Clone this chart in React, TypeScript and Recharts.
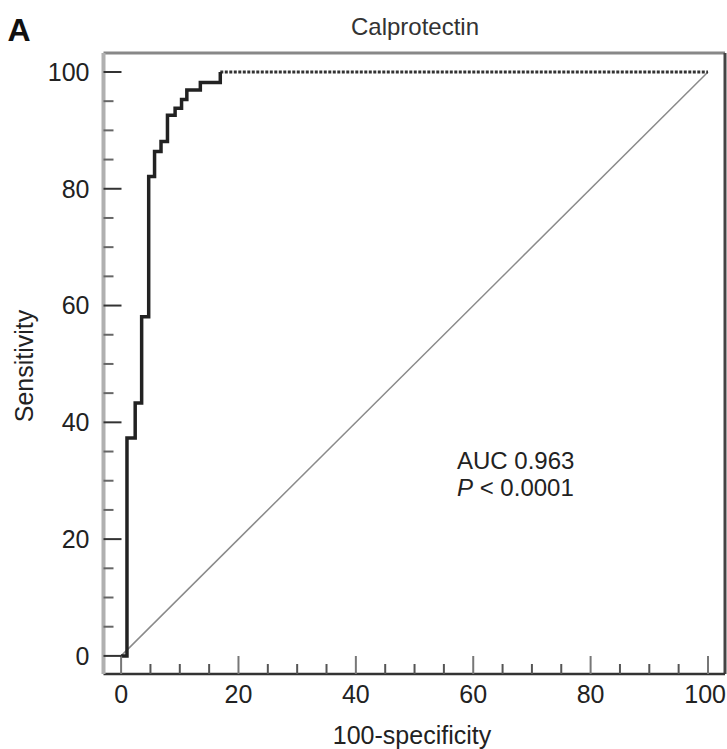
import { LineChart, Line, XAxis, YAxis, ReferenceLine } from 'recharts';

// ROC corner points (100-specificity, sensitivity)
const rocFpr = [0, 1.0, 1.0, 2.4, 2.4, 3.5, 3.5, 4.7, 4.7, 5.7, 5.7, 6.8, 6.8, 7.9, 7.9, 9.2, 9.2, 10.3, 10.3, 11.2, 11.2, 13.5, 13.5, 16.9, 16.9];
const rocSens = [0, 0, 37.3, 37.3, 43.3, 43.3, 58.1, 58.1, 82.1, 82.1, 86.4, 86.4, 88.1, 88.1, 92.6, 92.6, 93.8, 93.8, 95.3, 95.3, 96.9, 96.9, 98.2, 98.2, 100];

// flat part of the curve after it reaches 100
const plateauFpr = [16.9, 100];
const plateauSens = [100, 100];

// chance line
const diagFpr = [0, 100];
const diagSens = [0, 100];

const xTicks = [0, 5, 10, 15, 20, 25, 30, 35, 40, 45, 50, 55, 60, 65, 70, 75, 80, 85, 90, 95, 100];
const yTicks = [0, 5, 10, 15, 20, 25, 30, 35, 40, 45, 50, 55, 60, 65, 70, 75, 80, 85, 90, 95, 100];

const rocData = rocFpr.map((x, i) => ({ x, y: rocSens[i] }));
const plateauData = plateauFpr.map((x, i) => ({ x, y: plateauSens[i] }));
const diagData = diagFpr.map((x, i) => ({ x, y: diagSens[i] }));

const font = '"Liberation Sans", Arial, sans-serif';
const X_MIN = -3;
const X_MAX = 102.9;
const Y_MIN = -3.1;
const Y_MAX = 103.25;

const XTick = (props: any) => {
    const { x, y, payload } = props;
    const v = payload.value;
    const major = v % 20 === 0;
    // the last label sits flush against the right edge, as in the figure
    const last = v === xTicks[xTicks.length - 1];
    return (
        <g>
            <line x1={x} x2={x} y1={y} y2={y - (major ? 18 : 10)} stroke={major ? '#777' : '#555'} strokeWidth={2} />
            {major && (
                <text
                    x={last ? 726 : x}
                    y={y + 20}
                    dy="0.35em"
                    textAnchor={last ? 'end' : 'middle'}
                    fill="#222"
                    fontSize={25}
                    fontFamily={font}
                >
                    {v}
                </text>
            )}
        </g>
    );
};

const YTick = (props: any) => {
    const { x, y, payload } = props;
    const v = payload.value;
    const major = v % 20 === 0;
    return (
        <g>
            <line x1={x} x2={x + (major ? 18 : 10)} y1={y} y2={y} stroke={major ? '#333' : '#666'} strokeWidth={2} />
            {major && (
                <text x={x - 14} y={y} dy="0.35em" textAnchor="end" fill="#222" fontSize={25} fontFamily={font}>
                    {v}
                </text>
            )}
        </g>
    );
};

export default function App() {
    return (
        <div style={{ position: 'absolute', left: 0, top: 0, width: 727, height: 749, background: '#fff', fontFamily: font }}>
            <LineChart width={727} height={749} margin={{ top: 53, right: 2, left: 0, bottom: 0 }}>
                <XAxis
                    type="number"
                    dataKey="x"
                    domain={[X_MIN, X_MAX]}
                    allowDataOverflow
                    ticks={xTicks}
                    interval={0}
                    height={75}
                    tickSize={0}
                    tickMargin={0}
                    tickLine={false}
                    axisLine={{ stroke: '#333', strokeWidth: 2.5 }}
                    tick={XTick}
                />
                <YAxis
                    type="number"
                    dataKey="y"
                    domain={[Y_MIN, Y_MAX]}
                    allowDataOverflow
                    ticks={yTicks}
                    interval={0}
                    width={103.5}
                    tickSize={0}
                    tickMargin={0}
                    tickLine={false}
                    axisLine={{ stroke: '#b0b0b0', strokeWidth: 4 }}
                    tick={YTick}
                />
                <ReferenceLine y={Y_MAX} stroke="#888" strokeWidth={3} />
                <ReferenceLine x={X_MAX} stroke="#444" strokeWidth={3} />
                <Line data={diagData} dataKey="y" type="linear" stroke="#8a8a8a" strokeWidth={1.5} dot={false} isAnimationActive={false} />
                <Line data={plateauData} dataKey="y" type="linear" stroke="#333" strokeWidth={3} strokeDasharray="3 1.5" dot={false} isAnimationActive={false} />
                <Line data={rocData} dataKey="y" type="linear" stroke="#222" strokeWidth={3.5} dot={false} isAnimationActive={false} />
            </LineChart>
            <div style={{ position: 'absolute', left: 19, top: 30, transform: 'translate(-50%,-50%)', fontSize: 32, fontWeight: 'bold', color: '#111' }}>A</div>
            <div style={{ position: 'absolute', left: 415, top: 27, transform: 'translate(-50%,-50%)', fontSize: 24, color: '#333', whiteSpace: 'nowrap' }}>Calprotectin</div>
            <div style={{ position: 'absolute', left: 412, top: 735, transform: 'translate(-50%,-50%)', fontSize: 25, color: '#222', whiteSpace: 'nowrap' }}>100-specificity</div>
            <div style={{ position: 'absolute', left: 24, top: 366, transform: 'translate(-50%,-50%) rotate(-90deg)', fontSize: 25, color: '#222', whiteSpace: 'nowrap' }}>Sensitivity</div>
            <div style={{ position: 'absolute', left: 457, top: 447, fontSize: 24, lineHeight: '27px', color: '#222', whiteSpace: 'nowrap' }}>
                <div>AUC 0.963</div>
                <div><i>P</i> &lt; 0.0001</div>
            </div>
        </div>
    );
}
